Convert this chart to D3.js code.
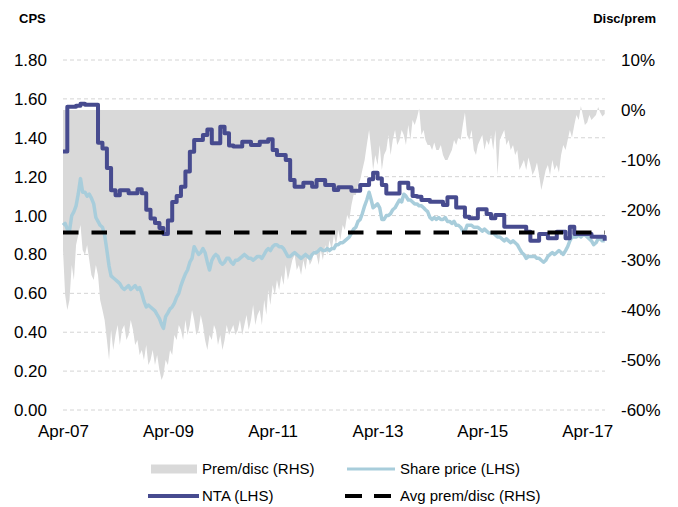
<!DOCTYPE html>
<html>
<head>
<meta charset="utf-8">
<script src="https://cdn.jsdelivr.net/npm/d3@7"></script>
<style>
  html, body { margin: 0; padding: 0; background: #fff; }
  svg { display: block; font-family: "Liberation Sans", Arial, sans-serif; }
</style>
</head>
<body>
<svg id="chart" width="678" height="507"></svg>
<script>
// Monthly NTA (cents per share), from Apr 2007
const ntaMonthly = [
  1.33, 1.56, 1.56, 1.565, 1.575, 1.57, 1.57, 1.57, 1.375,          // 2007
  1.345, 1.245, 1.13, 1.105, 1.13, 1.13, 1.115, 1.115, 1.135, 1.115, 1.03, 0.985, // 2008
  0.962, 0.936, 0.905, 0.975, 1.07, 1.10, 1.148, 1.226, 1.328, 1.389, 1.389, 1.414, // 2009
  1.443, 1.372, 1.372, 1.457, 1.423, 1.36, 1.355, 1.355, 1.38, 1.38, 1.363, 1.363, // 2010
  1.38, 1.38, 1.392, 1.337, 1.311, 1.311, 1.286, 1.183, 1.148, 1.148, 1.169, 1.169, // 2011
  1.148, 1.183, 1.183, 1.157, 1.157, 1.131, 1.145, 1.145, 1.145, 1.128, 1.128, 1.157, // 2012
  1.157, 1.187, 1.22, 1.19, 1.157, 1.114, 1.114, 1.114, 1.169, 1.169, 1.14, 1.10, // 2013
  1.097, 1.08, 1.08, 1.071, 1.071, 1.071, 1.054, 1.094, 1.094, 1.042, 1.042, 0.994, // 2014
  0.986, 0.986, 1.032, 1.032, 1.008, 0.986, 1.003, 1.003, 0.943, 0.943, 0.943, 0.943, // 2015
  0.943, 0.917, 0.871, 0.871, 0.905, 0.905, 0.883, 0.883, 0.917, 0.917, 0.883, 0.943, // 2016
  0.905, 0.905, 0.905, 0.905, 0.891, 0.891, 0.891, 0.871                            // 2017
];

// Share price, twice a month (1st and 16th), from Apr 2007
const sharePrice = [
  0.95, 0.96, 0.93, 0.92, 1.00, 1.02, 1.05, 1.11, 1.19, 1.12, 1.12, 1.10, 1.11, 1.09, 1.06, 0.99, 0.97, 0.95,
  0.94, 0.90, 0.82, 0.74, 0.69, 0.68, 0.67, 0.66, 0.65, 0.63, 0.62, 0.63, 0.64, 0.62, 0.63, 0.64, 0.62, 0.63, 0.60, 0.56, 0.53, 0.54, 0.53, 0.52,
  0.51, 0.49, 0.47, 0.44, 0.42, 0.48, 0.50, 0.52, 0.53, 0.55, 0.58, 0.60, 0.64, 0.67, 0.70, 0.72, 0.76, 0.78, 0.84, 0.82, 0.80, 0.81, 0.83, 0.81,
  0.76, 0.72, 0.77, 0.79, 0.80, 0.79, 0.76, 0.75, 0.76, 0.78, 0.78, 0.76, 0.75, 0.77, 0.77, 0.78, 0.79, 0.80, 0.79, 0.78, 0.78, 0.77, 0.78, 0.79,
  0.79, 0.78, 0.80, 0.82, 0.83, 0.82, 0.84, 0.85, 0.85, 0.84, 0.84, 0.83, 0.81, 0.79, 0.79, 0.80, 0.81, 0.80, 0.79, 0.78, 0.79, 0.80, 0.79, 0.78,
  0.80, 0.81, 0.81, 0.82, 0.83, 0.82, 0.82, 0.83, 0.82, 0.83, 0.83, 0.85, 0.85, 0.86, 0.86, 0.87, 0.88, 0.89, 0.91, 0.93, 0.94, 0.97, 0.98, 1.01,
  1.05, 1.08, 1.12, 1.08, 1.04, 1.05, 1.06, 1.04, 0.98, 0.98, 1.00, 1.00, 1.01, 1.03, 1.04, 1.06, 1.08, 1.07, 1.11, 1.10, 1.08, 1.08, 1.07, 1.06,
  1.06, 1.05, 1.05, 1.04, 1.03, 1.02, 0.99, 0.98, 0.99, 0.98, 0.99, 0.98, 0.98, 0.99, 0.97, 0.97, 0.96, 0.97, 0.95, 0.95, 0.94, 0.92, 0.92, 0.95,
  0.95, 0.95, 0.94, 0.94, 0.94, 0.93, 0.92, 0.93, 0.92, 0.91, 0.91, 0.91, 0.90, 0.89, 0.89, 0.88, 0.87, 0.88, 0.87, 0.86, 0.87, 0.86, 0.85, 0.83,
  0.81, 0.80, 0.78, 0.79, 0.79, 0.79, 0.79, 0.78, 0.78, 0.77, 0.76, 0.77, 0.79, 0.80, 0.81, 0.80, 0.81, 0.82, 0.81, 0.80, 0.82, 0.84, 0.87, 0.89,
  0.89, 0.89, 0.90, 0.89, 0.90, 0.90, 0.89, 0.88, 0.87, 0.85, 0.86, 0.88, 0.88, 0.87, 0.87
];

// Premium / discount to NTA (%), twice a month, from Apr 2007
const premDisc = [
  -28, -37, -40, -38, -31, -34, -27, -25, -23, -28, -29, -27, -30, -33, -34, -31, -33, -38,
  -40, -42, -46, -50, -44, -48, -45, -43, -47, -44, -43, -46, -45, -42, -44, -47, -46, -49, -48, -50, -47, -51, -50, -48,
  -51, -49, -52, -54, -53, -50, -51, -48, -49, -45, -46, -43, -44, -46, -42, -45, -43, -40, -42, -45, -44, -41, -43, -46,
  -48, -45, -46, -43, -44, -47, -45, -48, -46, -43, -45, -44, -43, -45, -44, -42, -45, -43, -41, -44, -42, -39, -43, -41,
  -40, -43, -38, -41, -36, -39, -35, -37, -34, -36, -33, -35, -31, -34, -32, -30, -29, -32, -31, -33, -30, -32, -29, -31,
  -30, -28, -29, -31, -28, -30, -27, -29, -26, -28, -25, -27, -24, -26, -23, -24, -21, -22, -19, -17, -17, -15, -14, -12,
  -10, -7, -4, -8, -12, -9, -11, -7, -12, -9, -8, -5, -9, -6, -4, -7, -6, -4, -5, -7, -3, -6, -2, -3,
  -1.5, 0.3, -5, -4, -6, -7, -7, -8, -6.5, -8, -8, -7, -9, -10, -10, -9, -8, -6, -7, -5.5, -6, -3, -0.5, -5,
  -6, -4, -8, -9, -7, -6, -5, -8, -6, -7, -5, -8, -4, -13, -6, -5, -4, -7, -6, -8, -7, -9, -8, -12,
  -11, -10, -12, -9.5, -11, -13, -12, -10.5, -13, -16, -14, -12, -11, -13, -10, -12, -11, -12.5, -9, -7, -8, -6, -4, -5.5,
  -3, -1, -2, 0.8, -1, -3, -2.5, -1, -2, -1.5, -1, 0.6, -0.5, -1.3, -0.8
];

const avgPremDisc = -24.5;

const leftTicks = [0, 0.2, 0.4, 0.6, 0.8, 1.0, 1.2, 1.4, 1.6, 1.8];
const rightTicks = [-60, -50, -40, -30, -20, -10, 0, 10];
const xTickYears = [2007, 2009, 2011, 2013, 2015, 2017];

const legendItems = [
  { label: "Prem/disc (RHS)", kind: "area" },
  { label: "Share price (LHS)", kind: "price" },
  { label: "NTA (LHS)", kind: "nta" },
  { label: "Avg prem/disc (RHS)", kind: "avg" }
];

// ---- layout ----
const W = 678, H = 507;
const plot = { left: 63, right: 605, top: 60, bottom: 410 };
const colors = { area: "#d9d9d9", price: "#a8cddb", nta: "#474b8f", avg: "#000000", grid: "#d4d4d4", text: "#000" };

const svg = d3.select("#chart");

const startDate = new Date(2007, 3, 1);
const endDate = new Date(2017, 7, 3);

const x = d3.scaleTime().domain([startDate, endDate]).range([plot.left, plot.right]);
const yL = d3.scaleLinear().domain([0, 1.8]).range([plot.bottom, plot.top]);
const yR = d3.scaleLinear().domain([-60, 10]).range([plot.bottom, plot.top]);

const halfMonthDate = i => new Date(2007, 3 + Math.floor(i / 2), i % 2 ? 16 : 1);
const monthDate = i => new Date(2007, 3 + i, 1);

const ntaData = ntaMonthly.map((v, i) => ({ date: monthDate(i), v }));
const priceData = sharePrice.map((v, i) => ({ date: halfMonthDate(i), v }));
const pdData = premDisc.map((v, i) => ({ date: halfMonthDate(i), v }));

// gridlines
svg.append("g").selectAll("line").data(leftTicks).join("line")
  .attr("x1", plot.left).attr("x2", plot.right)
  .attr("y1", d => yL(d)).attr("y2", d => yL(d))
  .attr("stroke", colors.grid).attr("stroke-width", 1)
  .attr("stroke-dasharray", "4,3");

// premium / discount area (RHS), filled from 0%
svg.append("path").datum(pdData)
  .attr("fill", colors.area)
  .attr("d", d3.area().x(d => x(d.date)).y0(yR(0)).y1(d => yR(d.v)));

// share price (LHS)
svg.append("path").datum(priceData)
  .attr("fill", "none").attr("stroke", colors.price).attr("stroke-width", 3.5)
  .attr("stroke-linejoin", "round")
  .attr("d", d3.line().x(d => x(d.date)).y(d => yL(d.v)));

// NTA (LHS)
svg.append("path").datum(ntaData)
  .attr("fill", "none").attr("stroke", colors.nta).attr("stroke-width", 4)
  .attr("stroke-linejoin", "round")
  .attr("d", d3.line().curve(d3.curveStepAfter).x(d => x(d.date)).y(d => yL(d.v)));

// average premium / discount (RHS)
svg.append("line")
  .attr("x1", plot.left).attr("x2", plot.right)
  .attr("y1", yR(avgPremDisc)).attr("y2", yR(avgPremDisc))
  .attr("stroke", colors.avg).attr("stroke-width", 4)
  .attr("stroke-dasharray", "15.5,13");

// axes
const fontSize = 17;
const axL = svg.append("g").attr("transform", `translate(${plot.left},0)`)
  .call(d3.axisLeft(yL).tickValues(leftTicks).tickFormat(d3.format(".2f")).tickSize(0).tickPadding(16));
const axR = svg.append("g").attr("transform", `translate(${plot.right},0)`)
  .call(d3.axisRight(yR).tickValues(rightTicks).tickFormat(d => d + "%").tickSize(0).tickPadding(16));
const axB = svg.append("g").attr("transform", `translate(0,${plot.bottom})`)
  .call(d3.axisBottom(x).tickValues(xTickYears.map(yr => new Date(yr, 3, 1)))
    .tickFormat(d3.timeFormat("%b-%y")).tickSize(0).tickPadding(15));
[axL, axR, axB].forEach(g => {
  g.select(".domain").remove();
  g.selectAll("text").attr("font-size", fontSize).attr("fill", colors.text)
    .attr("font-family", "'Liberation Sans', Arial, sans-serif");
});

// axis titles
svg.append("text").attr("x", 19).attr("y", 22.5)
  .attr("font-size", 13).attr("font-weight", "bold").text("CPS");
svg.append("text").attr("x", 656).attr("y", 22.5).attr("text-anchor", "end")
  .attr("font-size", 13).attr("font-weight", "bold").text("Disc/prem");

// legend
const legendPos = [
  { sx: 151, tx: 202, y: 469 },
  { sx: 347, tx: 400, y: 469 },
  { sx: 148, tx: 202, y: 496 },
  { sx: 345, tx: 400, y: 496 }
];
const lg = svg.append("g");
legendItems.forEach((item, i) => {
  const p = legendPos[i];
  if (item.kind === "area") {
    lg.append("rect").attr("x", p.sx).attr("y", p.y - 4.5).attr("width", 46).attr("height", 9)
      .attr("fill", colors.area);
  } else if (item.kind === "price") {
    lg.append("line").attr("x1", p.sx).attr("x2", p.sx + 48).attr("y1", p.y).attr("y2", p.y)
      .attr("stroke", colors.price).attr("stroke-width", 3);
  } else if (item.kind === "nta") {
    lg.append("line").attr("x1", p.sx).attr("x2", p.sx + 51).attr("y1", p.y).attr("y2", p.y)
      .attr("stroke", colors.nta).attr("stroke-width", 4);
  } else {
    lg.append("line").attr("x1", p.sx).attr("x2", p.sx + 46).attr("y1", p.y).attr("y2", p.y)
      .attr("stroke", colors.avg).attr("stroke-width", 4).attr("stroke-dasharray", "17,12");
  }
  lg.append("text").attr("x", p.tx).attr("y", p.y + 5.3)
    .attr("font-size", 15).attr("fill", colors.text).text(item.label);
});
</script>
</body>
</html>
